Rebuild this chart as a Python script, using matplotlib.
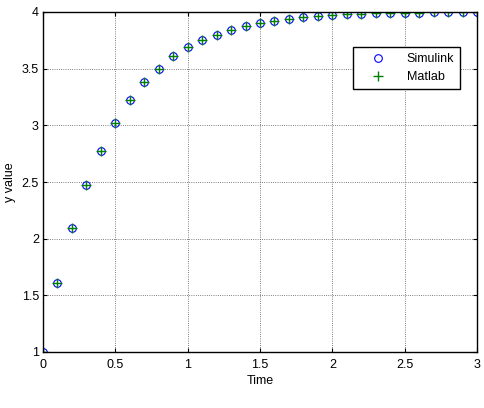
import numpy as np
import matplotlib.pyplot as plt

plt.rcParams['font.family'] = ['Liberation Sans', 'DejaVu Sans']

# time samples and the y values
time = [0.0, 0.1, 0.2, 0.3, 0.4, 0.5, 0.6, 0.7, 0.8, 0.9, 1.0,
        1.1, 1.2, 1.3, 1.4, 1.5, 1.6, 1.7, 1.8, 1.9, 2.0,
        2.1, 2.2, 2.3, 2.4, 2.5, 2.6, 2.7, 2.8, 2.9, 3.0]
y_simulink = [1.00, 1.61, 2.09, 2.47, 2.77, 3.02, 3.22, 3.38, 3.50, 3.61, 3.69,
              3.75, 3.80, 3.845, 3.875, 3.90, 3.92, 3.94, 3.955, 3.965, 3.975,
              3.98, 3.985, 3.988, 3.991, 3.993, 3.995, 3.996, 3.997, 3.998, 3.999]
y_matlab = list(y_simulink)

x_ticks = [0, 0.5, 1, 1.5, 2, 2.5, 3]
x_ticklabels = ["0", "0.5", "1", "1.5", "2", "2.5", "3"]
y_ticks = [1, 1.5, 2, 2.5, 3, 3.5, 4]
y_ticklabels = ["1", "1.5", "2", "2.5", "3", "3.5", "4"]

fig = plt.figure(figsize=(4.84, 4.08), dpi=100)
ax = fig.add_axes([43 / 484, 1 - 352 / 408, 434 / 484, 340 / 408])

ax.plot(time, y_simulink, linestyle='none', marker='o', markersize=5.5,
        markerfacecolor='none', markeredgecolor='#0000ff', markeredgewidth=0.8,
        label='Simulink')
ax.plot(time, y_matlab, linestyle='none', marker='+', markersize=6.5,
        color='#008000', markeredgewidth=1.0, label='Matlab')

ax.set_xlim(0, 3)
ax.set_ylim(1, 4)
ax.set_xticks(x_ticks)
ax.set_xticklabels(x_ticklabels)
ax.set_yticks(y_ticks)
ax.set_yticklabels(y_ticklabels)
ax.tick_params(direction='in', top=True, right=True, labelsize=9, length=3, width=0.8)
ax.tick_params(axis='x', pad=5)
ax.tick_params(axis='y', pad=3)
ax.grid(True, color='#555555', linestyle=':', linewidth=0.6)
for s in ax.spines.values():
    s.set_linewidth(1.0)

ax.set_xlabel('Time', fontsize=9, labelpad=3)
ax.set_ylabel('y value', fontsize=9, labelpad=4)

leg = ax.legend(loc='upper left', bbox_to_anchor=(0.714, 0.897), fontsize=9,
                frameon=True, fancybox=False, edgecolor='black', framealpha=1,
                handlelength=3, handletextpad=0.8, borderpad=0.5,
                labelspacing=0.45, borderaxespad=0)
leg.get_frame().set_linewidth(1.0)

fig.savefig('out.png', dpi=100)
